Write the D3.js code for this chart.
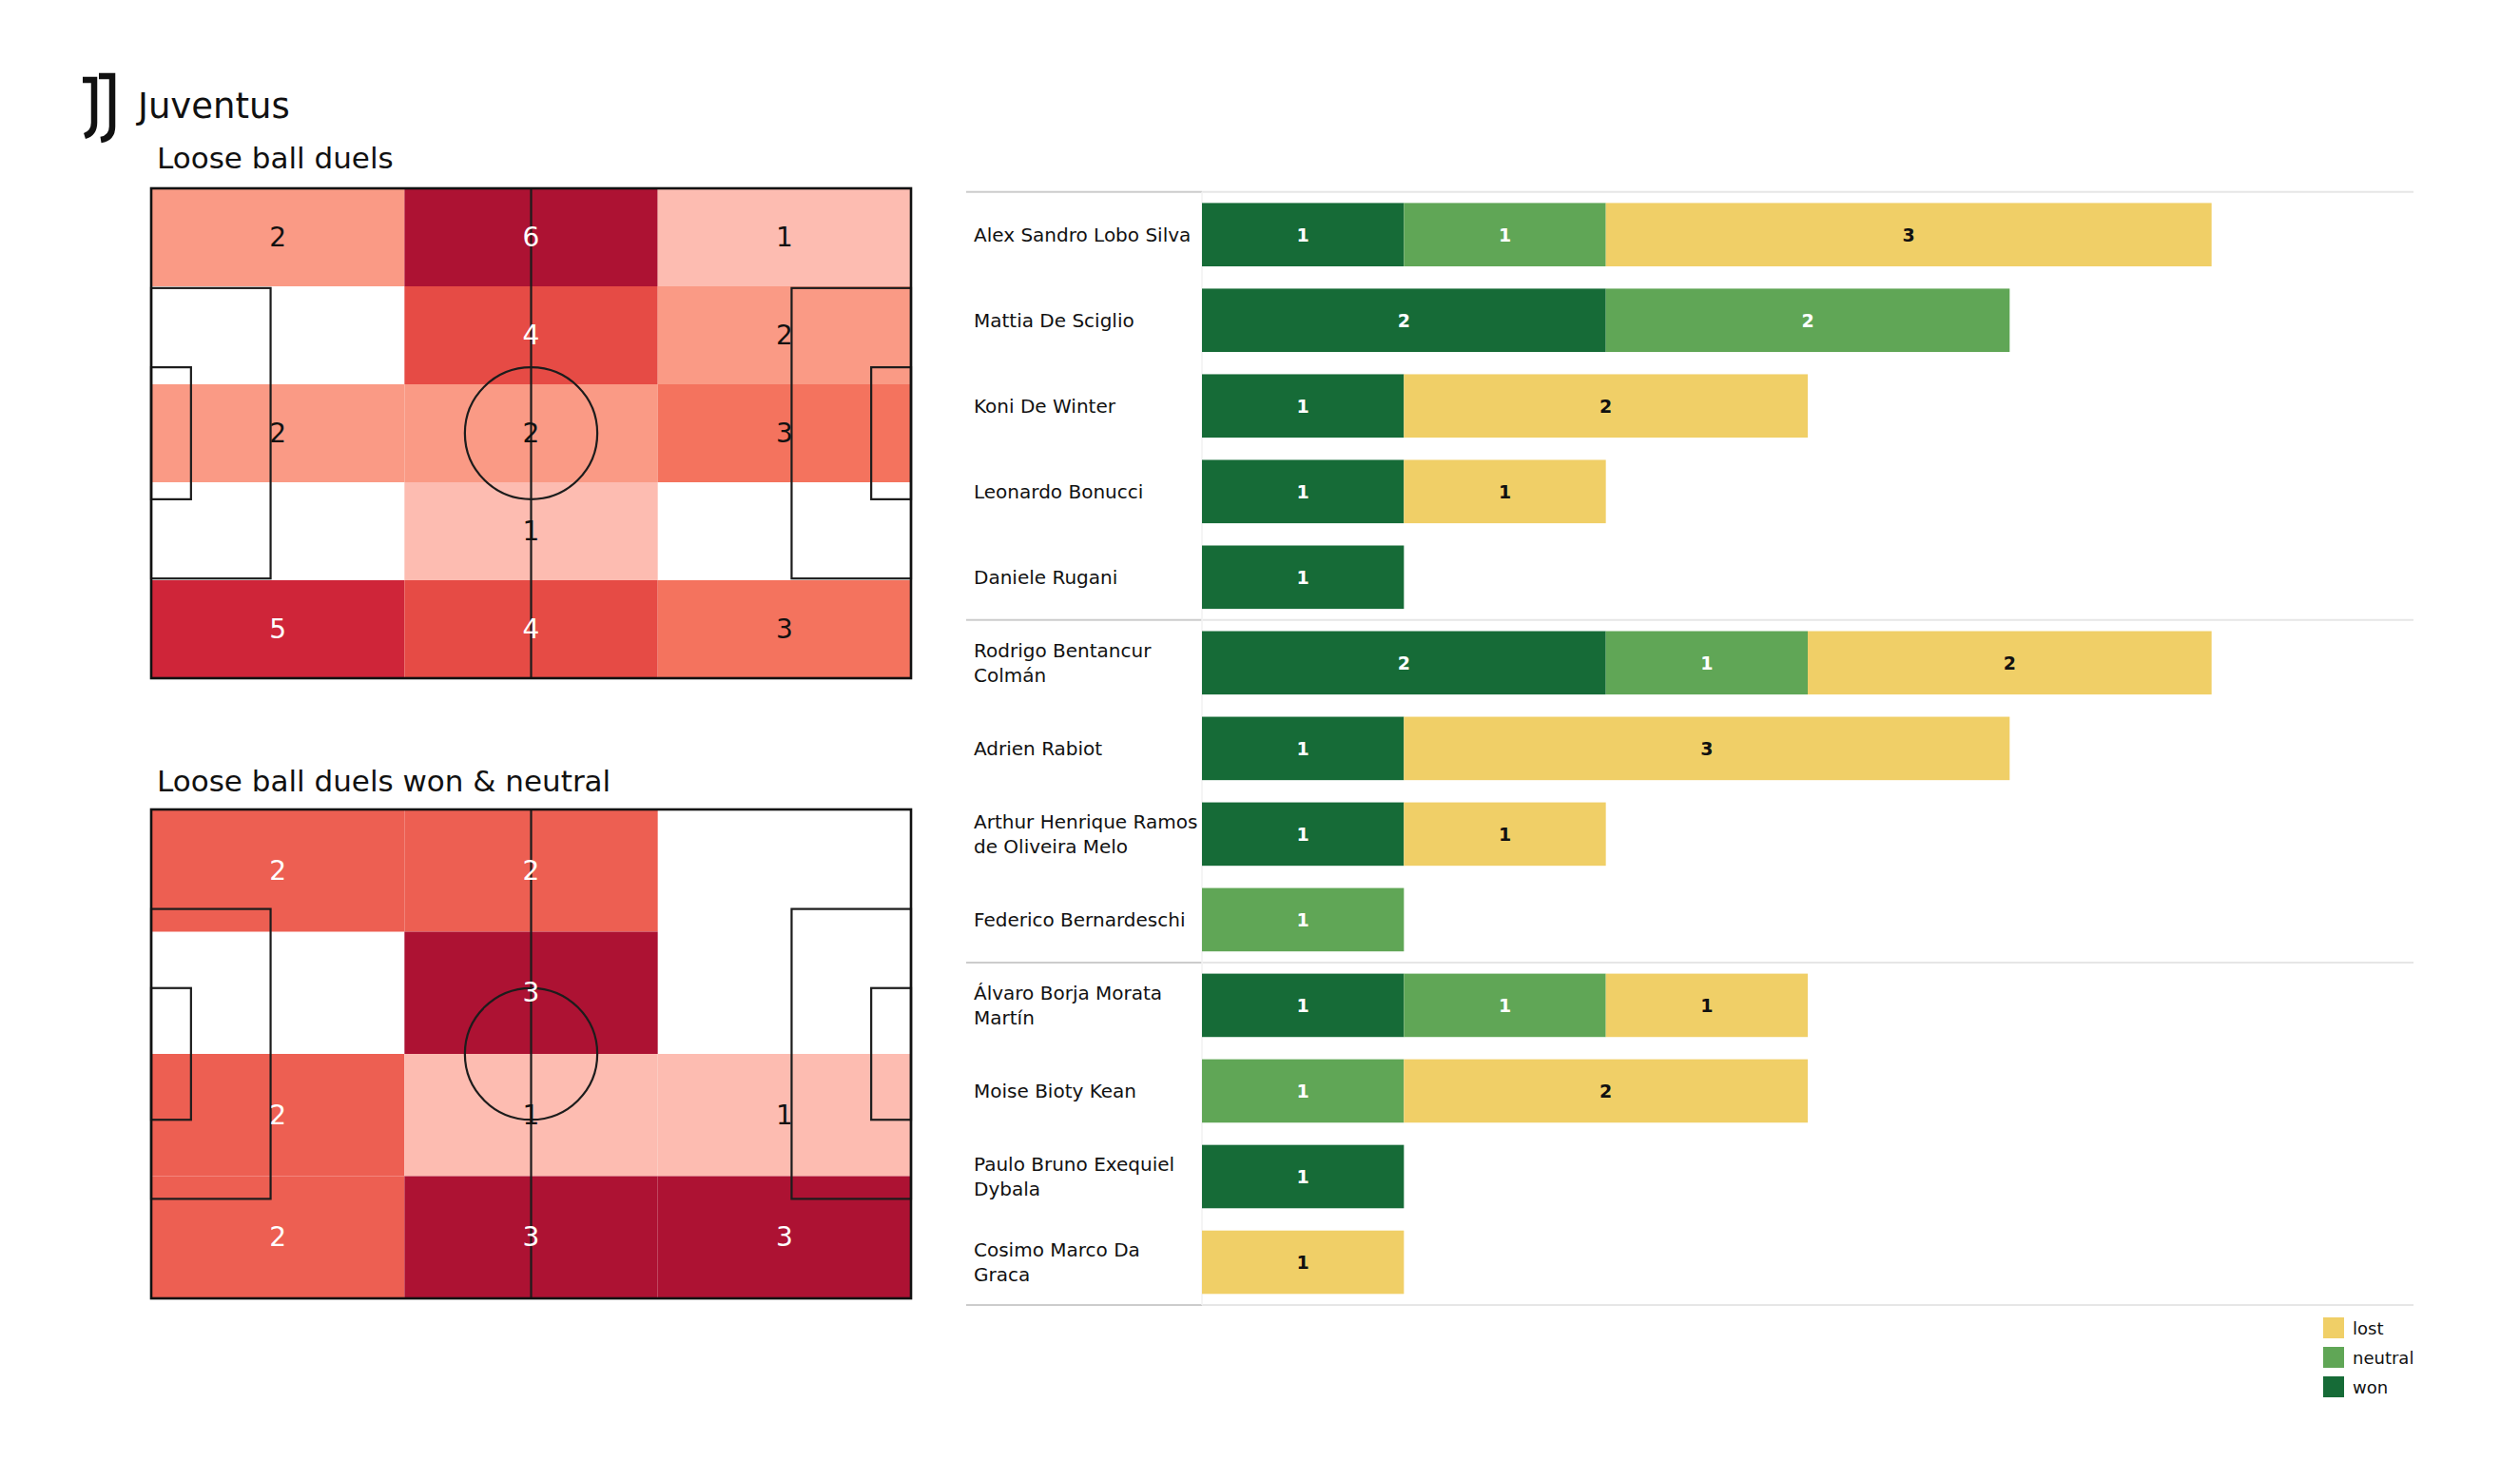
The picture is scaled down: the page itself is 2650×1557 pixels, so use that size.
<!DOCTYPE html>
<html>
<head>
<meta charset="utf-8">
<script src="https://cdn.jsdelivr.net/npm/d3@7"></script>
<style>
  html, body { margin: 0; padding: 0; background: #ffffff; }
  svg { display: block; }
  text { font-family: "DejaVu Sans", sans-serif; }
</style>
</head>
<body>
<svg id="chart" width="2650" height="1557"></svg>
<script>
// ---------------- DATA ----------------
const teamName = "Juventus";
const heatTitle1 = "Loose ball duels";
const heatTitle2 = "Loose ball duels won & neutral";

// heatmap zone counts, rows top->bottom, columns left->right
const zonesAll = [
  [2, 6, 1],
  [0, 4, 2],
  [2, 2, 3],
  [0, 1, 0],
  [5, 4, 3]
];
const zonesWonNeutral = [
  [2, 2, 0],
  [0, 3, 0],
  [2, 1, 1],
  [2, 3, 3]
];

const players = [
  "Alex Sandro Lobo Silva", "Mattia De Sciglio", "Koni De Winter", "Leonardo Bonucci",
  "Daniele Rugani", "Rodrigo Bentancur Colmán", "Adrien Rabiot",
  "Arthur Henrique Ramos de Oliveira Melo", "Federico Bernardeschi",
  "Álvaro Borja Morata Martín", "Moise Bioty Kean", "Paulo Bruno Exequiel Dybala",
  "Cosimo Marco Da Graca"
];
const playerLabelLines = [
  ["Alex Sandro Lobo Silva"], ["Mattia De Sciglio"], ["Koni De Winter"], ["Leonardo Bonucci"],
  ["Daniele Rugani"], ["Rodrigo Bentancur", "Colmán"], ["Adrien Rabiot"],
  ["Arthur Henrique Ramos", "de Oliveira Melo"], ["Federico Bernardeschi"],
  ["Álvaro Borja Morata", "Martín"], ["Moise Bioty Kean"], ["Paulo Bruno Exequiel", "Dybala"],
  ["Cosimo Marco Da", "Graca"]
];
const positionGroup = ["D", "D", "D", "D", "D", "M", "M", "M", "M", "F", "F", "F", "F"];
const wonValues     = [1, 2, 1, 1, 1, 2, 1, 1, 0, 1, 0, 1, 0];
const neutralValues = [1, 2, 0, 0, 0, 1, 0, 0, 1, 1, 1, 0, 0];
const lostValues    = [3, 0, 2, 1, 0, 2, 3, 1, 0, 1, 2, 0, 1];

const seriesKeys = ["won", "neutral", "lost"];
const seriesColors = { won: "#166b37", neutral: "#60a656", lost: "#f0cf67" };
const seriesTextColors = { won: "#ffffff", neutral: "#ffffff", lost: "#111111" };
const legendOrder = ["lost", "neutral", "won"];
const heatStops = ["#fdbcb1", "#fa9a85", "#f4735e", "#e64b45", "#cf2539", "#ad1233"];

// ---------------- DRAW ----------------
const svg = d3.select("#chart");

// Logo (stylised J J)
const logo = svg.append("g");
logo.append("path")
  .attr("d", "M87,84 L99,84 L99,129 Q99,140 89,143")
  .attr("fill", "none").attr("stroke", "#111").attr("stroke-width", 6.5);
logo.append("path")
  .attr("d", "M104,80 L118,80 L118,133 Q118,145 106,147")
  .attr("fill", "none").attr("stroke", "#111").attr("stroke-width", 6.5);

svg.append("text").attr("x", 145).attr("y", 124)
  .attr("font-size", 37).attr("fill", "#111").text(teamName);

// ---- Pitch heatmaps ----
function drawPitch(title, zones, top, bottom, titleY) {
  const x = d3.scaleLinear().domain([0, 105]).range([159, 958]);
  const y = d3.scaleLinear().domain([0, 68]).range([top, bottom]);
  const nRows = zones.length, nCols = zones[0].length;
  const flat = zones.flat().filter(v => v > 0);
  const vmin = d3.min(flat), vmax = d3.max(flat);
  const color = d3.scaleLinear()
    .domain(heatStops.map((_, i) => vmin + i * (vmax - vmin) / (heatStops.length - 1)))
    .range(heatStops);

  svg.append("text").attr("x", 165).attr("y", titleY)
    .attr("font-size", 31).attr("fill", "#111").text(title);

  const g = svg.append("g");
  const cells = [];
  zones.forEach((row, r) => row.forEach((v, c) => cells.push({ r, c, v })));
  const cw = 105 / nCols, rh = 68 / nRows;

  g.selectAll("rect.cell").data(cells.filter(d => d.v > 0)).join("rect")
    .attr("class", "cell")
    .attr("x", d => x(d.c * cw)).attr("y", d => y(d.r * rh))
    .attr("width", d => x((d.c + 1) * cw) - x(d.c * cw))
    .attr("height", d => y((d.r + 1) * rh) - y(d.r * rh))
    .attr("fill", d => color(d.v));

  // pitch markings
  const lc = "#1c1c1c", lw = 2.2;
  const line = (x1, y1, x2, y2, w) => g.append("line")
    .attr("x1", x(x1)).attr("y1", y(y1)).attr("x2", x(x2)).attr("y2", y(y2))
    .attr("stroke", lc).attr("stroke-width", w || lw);
  const rect = (x0, y0, x1, y1) => g.append("rect")
    .attr("x", x(x0)).attr("y", y(y0)).attr("width", x(x1) - x(x0)).attr("height", y(y1) - y(y0))
    .attr("fill", "none").attr("stroke", lc).attr("stroke-width", lw);

  rect(0, 13.84, 16.5, 54.16);
  rect(0, 24.84, 5.5, 43.16);
  rect(88.5, 13.84, 105, 54.16);
  rect(99.5, 24.84, 105, 43.16);
  line(52.5, 0, 52.5, 68);
  g.append("ellipse")
    .attr("cx", x(52.5)).attr("cy", y(34))
    .attr("rx", x(52.5 + 9.15) - x(52.5)).attr("ry", y(34 + 9.15) - y(34))
    .attr("fill", "none").attr("stroke", lc).attr("stroke-width", lw);
  g.append("rect")
    .attr("x", x(0)).attr("y", y(0)).attr("width", x(105) - x(0)).attr("height", y(68) - y(0))
    .attr("fill", "none").attr("stroke", "#111").attr("stroke-width", 2.6);

  // numbers
  g.selectAll("text.val").data(cells.filter(d => d.v > 0)).join("text")
    .attr("class", "val")
    .attr("x", d => x((d.c + 0.5) * cw)).attr("y", d => y((d.r + 0.5) * rh))
    .attr("text-anchor", "middle").attr("dominant-baseline", "central")
    .attr("font-size", 28)
    .attr("fill", d => ((d.v - vmin) / (vmax - vmin) >= 0.5) ? "#ffffff" : "#111111")
    .text(d => d.v);
}

drawPitch(heatTitle1, zonesAll, 198, 713, 177);
drawPitch(heatTitle2, zonesWonNeutral, 851, 1365, 832);

// ---- Stacked bar chart ----
const rows = players.map((p, i) => ({
  player: p, won: wonValues[i], neutral: neutralValues[i], lost: lostValues[i],
  lines: playerLabelLines[i], group: positionGroup[i]
}));

const yBand = d3.scaleBand().domain(players).range([201.7, 1372])
  .paddingInner(0.26).paddingOuter(0.13);
const xLin = d3.scaleLinear().domain([0, 6]).range([1264, 2538]);

const stacked = d3.stack().keys(seriesKeys)(rows);
const bars = svg.append("g");

// separator lines (top, between groups, bottom)
const sepYs = [yBand.range()[0]];
rows.forEach((r, i) => {
  if (i > 0 && r.group !== rows[i - 1].group) {
    sepYs.push((yBand(rows[i - 1].player) + yBand.bandwidth() + yBand(r.player)) / 2);
  }
});
sepYs.push(yBand.range()[1]);
sepYs.forEach(sy => {
  bars.append("line").attr("x1", 1016).attr("x2", 1264).attr("y1", sy).attr("y2", sy)
    .attr("stroke", "#cccccc").attr("stroke-width", 2);
  bars.append("line").attr("x1", 1264).attr("x2", 2538).attr("y1", sy).attr("y2", sy)
    .attr("stroke", "#e6e6e6").attr("stroke-width", 2);
});
bars.append("line").attr("x1", 1264).attr("x2", 1264)
  .attr("y1", yBand.range()[0]).attr("y2", yBand.range()[1])
  .attr("stroke", "#f2f2f2").attr("stroke-width", 1.5);

stacked.forEach(layer => {
  const key = layer.key;
  const segs = layer.map(d => ({ x0: d[0], x1: d[1], player: d.data.player })).filter(d => d.x1 > d.x0);
  bars.selectAll("rect.seg-" + key).data(segs).join("rect")
    .attr("class", "seg-" + key)
    .attr("x", d => xLin(d.x0)).attr("y", d => yBand(d.player))
    .attr("width", d => xLin(d.x1) - xLin(d.x0)).attr("height", yBand.bandwidth())
    .attr("fill", seriesColors[key]);
  bars.selectAll("text.lab-" + key).data(segs).join("text")
    .attr("class", "lab-" + key)
    .attr("x", d => xLin((d.x0 + d.x1) / 2)).attr("y", d => yBand(d.player) + yBand.bandwidth() / 2)
    .attr("text-anchor", "middle").attr("dominant-baseline", "central")
    .attr("font-size", 19).attr("font-weight", "bold")
    .attr("fill", seriesTextColors[key])
    .text(d => d.x1 - d.x0);
});

// player labels
rows.forEach(r => {
  const cy = yBand(r.player) + yBand.bandwidth() / 2;
  const lh = 26;
  const t = bars.append("text").attr("x", 1024).attr("font-size", 20).attr("fill", "#111");
  r.lines.forEach((ln, k) => {
    t.append("tspan").attr("x", 1024)
      .attr("y", cy + (k - (r.lines.length - 1) / 2) * lh)
      .attr("dominant-baseline", "central").text(ln);
  });
});

// legend
const legend = svg.append("g");
legendOrder.forEach((k, i) => {
  const ly = 1385 + i * 31;
  legend.append("rect").attr("x", 2443).attr("y", ly).attr("width", 22).attr("height", 22)
    .attr("fill", seriesColors[k]);
  legend.append("text").attr("x", 2474).attr("y", ly + 11).attr("dominant-baseline", "central")
    .attr("font-size", 18).attr("fill", "#111").text(k);
});
</script>
</body>
</html>
